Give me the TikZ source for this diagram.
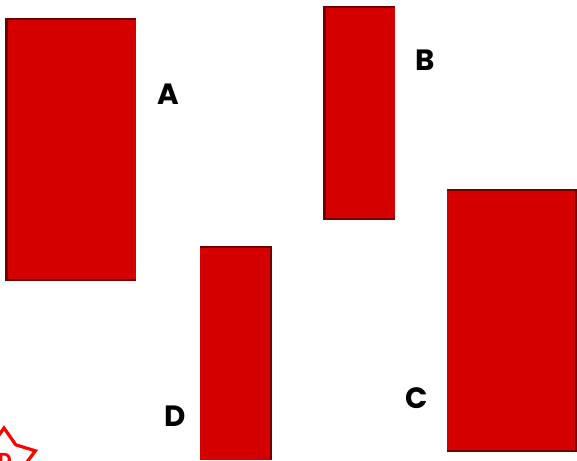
\documentclass[tikz,border=0pt]{standalone}
\usepackage{fontspec}
\setsansfont{Poppins}
\usepackage{xcolor}
\usetikzlibrary{arrows.meta,positioning,calc}
\definecolor{barred}{HTML}{D40000}
\definecolor{edgered}{HTML}{6E0000}
\definecolor{starred}{HTML}{FF0000}

\begin{document}
\begin{tikzpicture}[x=0.75pt,y=-0.75pt,
    letter/.style={inner sep=0pt,font=\sffamily\bfseries\fontsize{22}{26}\selectfont},
    bar/.style={fill=barred,draw=none},
    edge/.style={fill=edgered,draw=none}]
\useasboundingbox (0,0) rectangle (577,460);
\clip (0,0) rectangle (577,460);

    % bar A
    \path[edge] (5,18) rectangle (136,281);
    \path[bar] (8,20) rectangle (136,279);
    \node[letter] (labA) at (168,94) {A};

    % bar B
    \path[edge] (323,6) rectangle (395,220);
    \path[bar] (326,8) rectangle (395,218);
    \node[letter] (labB) at (425,60) {B};

    % bar C
    \path[edge] (447,189) rectangle (577,452);
    \path[bar] (447,191) rectangle (575,450);
    \node[letter] (labC) at (417,398) {C};

    % bar D
    \path[edge] (200,246) rectangle (272,460);
    \path[bar] (200,248) rectangle (270,460);
    \node[letter] (labD) at (175,416) {D};

    % star in the corner
    \coordinate (starc) at (4,461);
    \draw[starred,line width=2.4pt,line join=miter]
        ($(starc)+(-90:33)$) \foreach \k in {1,...,9} {
            -- ($(starc)+({-90-36*\k}:{mod(\k,2)==1 ? 20 : 33})$) } -- cycle;
    \node[text=starred,inner sep=0pt,font=\sffamily\bfseries\fontsize{14}{16}\selectfont] (starlab) at (5,460) {D};

\end{tikzpicture}
\end{document}
